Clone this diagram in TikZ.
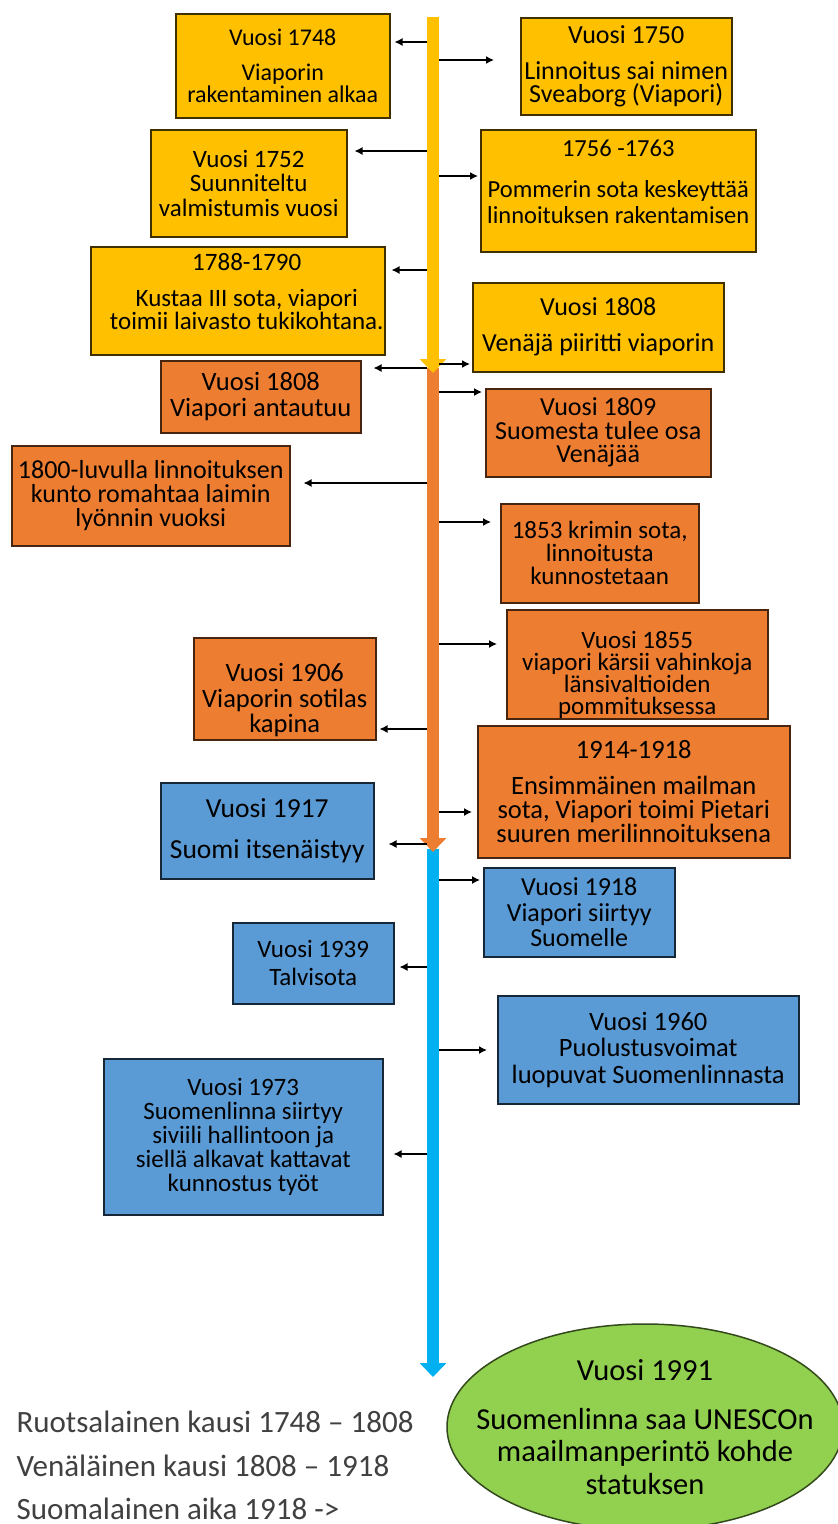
\documentclass[tikz,border=0pt]{standalone}
\usepackage{fontspec}
\setmainfont{Carlito}
\usepackage{xcolor}
\usepackage{tikz}
\usetikzlibrary{arrows.meta,shapes.geometric}
\definecolor{yel}{HTML}{FFC000}
\definecolor{ora}{HTML}{ED7D31}
\definecolor{blu}{HTML}{5B9BD5}
\definecolor{grn}{HTML}{92D050}
\definecolor{sky}{HTML}{00B0F0}
\definecolor{muted}{HTML}{404040}
\tikzset{
  fs/.style 2 args={font=\fontsize{#1}{#2}\selectfont},
  evt/.style={anchor=north west, align=center, inner sep=0pt, line width=1.5pt, text=black},
  ybox/.style={evt, fill=yel, draw=yel!25!black},
  obox/.style={evt, fill=ora, draw=ora!30!black},
  bbox/.style={evt, fill=blu, draw=blu!25!black},
  conn/.style={draw=black, line width=1.4pt, -{Latex[length=8pt,width=8pt]}},
  shaft/.style={line width=12pt, -{Triangle[width=26pt,length=14pt]}},
  legend/.style={anchor=base west, text=muted, fs={31}{31}},
}

\begin{document}
\begin{tikzpicture}[x=1pt,y=-1pt]
  \useasboundingbox (0,0) rectangle (838,1524);
  % timeline
  \coordinate (ystart) at (433,17);
  \coordinate (yend) at (433,373);
  \coordinate (ostart) at (433,368);
  \coordinate (oend) at (433,852);
  \coordinate (bstart) at (433,849);
  \coordinate (bend) at (433,1377);
  \draw[shaft, draw=sky, fill=sky] (bstart)--(bend);
  \draw[shaft, draw=ora, fill=ora] (ostart)--(oend);
  \draw[shaft, draw=yel, fill=yel] (ystart)--(yend);

  % swedish period
  \node[ybox, fs={24}{22}, minimum width=214pt, minimum height=104pt] (e1748) at (175,13)
    {Vuosi 1748\\[13pt]Viaporin\\rakentaminen alkaa};
  \node[ybox, fs={26}{23}, minimum width=211pt, minimum height=97pt] (e1750) at (520,17)
    {Vuosi 1750\\[13pt]Linnoitus sai nimen\\Sveaborg (Viapori)};
  \node[ybox, fs={25}{24.5}, minimum width=196pt, minimum height=107pt] (e1752) at (150,129)
    {Vuosi 1752\\Suunniteltu\\valmistumis vuosi};
  \node[ybox, fs={24.5}{26}, minimum width=275pt, minimum height=122pt] (e1756) at (480,129)
    {1756 -1763\\[15pt]Pommerin sota keskeyttää\\linnoituksen rakentamisen\\[-8pt]\mbox{}};
  \node[ybox, fs={25}{23}, minimum width=294pt, minimum height=108pt] (e1788) at (90,246)
    {\hspace*{18pt}1788-1790\\[13pt]\hspace*{18pt}Kustaa III sota, viapori\\
     \hspace*{18pt}toimii laivasto tukikohtana.\\[-5pt]\mbox{}};
  \node[ybox, fs={26}{24}, minimum width=251pt, minimum height=89pt] (e1808r) at (472,282)
    {Vuosi 1808\\[12pt]Venäjä piiritti viaporin};

  % russian period
  \node[obox, fs={26.5}{26}, minimum width=200pt, minimum height=72pt] (e1808s) at (160,360)
    {Vuosi 1808\\Viapori antautuu};
  \node[obox, fs={26}{23.5}, minimum width=225pt, minimum height=88pt] (e1809) at (485,388)
    {Vuosi 1809\\Suomesta tulee osa\\Venäjää};
  \node[obox, fs={26}{24}, minimum width=278pt, minimum height=100pt] (e1800) at (11,445)
    {1800-luvulla linnoituksen\\kunto romahtaa laimin\\lyönnin vuoksi};
  \node[obox, fs={25}{23}, minimum width=198pt, minimum height=99pt] (e1853) at (500,503)
    {1853 krimin sota,\\linnoitusta\\kunnostetaan};
  \node[obox, fs={25}{22}, minimum width=261pt, minimum height=103pt] (e1855) at (506,609)
    {\mbox{}\\[17pt]Vuosi 1855\\viapori kärsii vahinkoja\\länsivaltioiden\\pommituksessa};
  \node[obox, fs={26.5}{25.5}, minimum width=182pt, minimum height=102pt] (e1906) at (193,637)
    {\mbox{}\\[16pt]Vuosi 1906\\Viaporin sotilas\\kapina};
  \node[obox, fs={26.5}{24}, minimum width=312pt, minimum height=132pt] (e1914) at (477,725)
    {1914-1918\\[12pt]Ensimmäinen mailman\\sota, Viapori toimi Pietari\\suuren merilinnoituksena};

  % finnish period
  \node[bbox, fs={27.5}{26}, minimum width=213pt, minimum height=96pt] (e1917) at (160,782)
    {Vuosi 1917\\[15pt]Suomi itsenäistyy};
  \node[bbox, fs={26}{25.5}, minimum width=191pt, minimum height=89pt] (e1918) at (483,867)
    {Vuosi 1918\\Viapori siirtyy\\Suomelle};
  \node[bbox, fs={25}{28}, minimum width=161pt, minimum height=81pt] (e1939) at (232,922)
    {Vuosi 1939\\Talvisota};
  \node[bbox, fs={26.5}{26.5}, minimum width=301pt, minimum height=108pt] (e1960) at (497,995)
    {Vuosi 1960\\Puolustusvoimat\\luopuvat Suomenlinnasta};
  \node[bbox, fs={25}{24}, minimum width=279pt, minimum height=156pt] (e1973) at (103,1058)
    {Vuosi 1973\\Suomenlinna siirtyy\\siviili hallintoon ja\\siellä alkavat kattavat\\kunnostus työt};

  % unesco
  \node[ellipse, fill=grn, draw=grn!35!black, line width=1.5pt, inner sep=0pt,
        minimum width=396pt, minimum height=206pt] (e1991) at (645,1427) {};
  \node[align=center, fs={30.5}{32.5}] (t1991) at (e1991.center)
    {Vuosi 1991\\[16pt]Suomenlinna saa UNESCOn\\maailmanperintö kohde\\statuksen};

  % connectors from the timeline
  \coordinate (t1748) at (427,42);
  \coordinate (t1750) at (439,60);
  \coordinate (t1752) at (427,151);
  \coordinate (t1756) at (439,176);
  \coordinate (t1788) at (427,270);
  \coordinate (t1808r) at (439,364);
  \coordinate (t1808s) at (427,368);
  \coordinate (t1809) at (439,392);
  \coordinate (t1800) at (427,483);
  \coordinate (t1853) at (439,522);
  \coordinate (t1855) at (439,644);
  \coordinate (t1906) at (427,729);
  \coordinate (t1914) at (439,812);
  \coordinate (t1917) at (427,844);
  \coordinate (t1918) at (439,880);
  \coordinate (t1939) at (427,967);
  \coordinate (t1960) at (439,1050);
  \coordinate (t1973) at (427,1154);
  \draw[conn, shorten >=4pt] (t1748)--(t1748 -| e1748.east);
  \draw[conn, shorten >=26pt] (t1750)--(t1750 -| e1750.west);
  \draw[conn, shorten >=7pt] (t1752)--(t1752 -| e1752.east);
  \draw[conn, shorten >=2pt] (t1756)--(t1756 -| e1756.west);
  \draw[conn, shorten >=6pt] (t1788)--(t1788 -| e1788.east);
  \draw[conn, shorten >=2pt] (t1808r)--(t1808r -| e1808r.west);
  \draw[conn, shorten >=12pt] (t1808s)--(t1808s -| e1808s.east);
  \draw[conn, shorten >=3pt] (t1809)--(t1809 -| e1809.west);
  \draw[conn, shorten >=13pt] (t1800)--(t1800 -| e1800.east);
  \draw[conn, shorten >=9pt] (t1853)--(t1853 -| e1853.west);
  \draw[conn, shorten >=9pt] (t1855)--(t1855 -| e1855.west);
  \draw[conn, shorten >=3pt] (t1906)--(t1906 -| e1906.east);
  \draw[conn, shorten >=5pt] (t1914)--(t1914 -| e1914.west);
  \draw[conn, shorten >=14pt] (t1917)--(t1917 -| e1917.east);
  \draw[conn, shorten >=3pt] (t1918)--(t1918 -| e1918.west);
  \draw[conn, shorten >=5pt] (t1939)--(t1939 -| e1939.east);
  \draw[conn, shorten >=10pt] (t1960)--(t1960 -| e1960.west);
  \draw[conn, shorten >=10pt] (t1973)--(t1973 -| e1973.east);

  % periods
  \node[legend] (kswe) at (13,1432) {Ruotsalainen kausi 1748 – 1808};
  \node[legend] (krus) at (13,1476) {Venäläinen kausi 1808 – 1918};
  \node[legend] (kfin) at (13,1519) {Suomalainen aika 1918 ->};
\end{tikzpicture}
\end{document}
